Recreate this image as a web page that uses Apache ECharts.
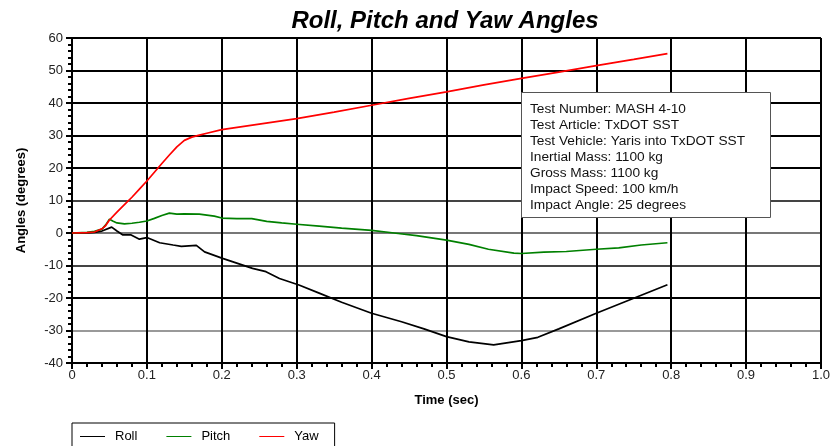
<!DOCTYPE html>
<html>
<head>
<meta charset="utf-8">
<script src="https://cdn.jsdelivr.net/npm/echarts@6/dist/echarts.min.js"></script>
<style>
  html, body { margin: 0; padding: 0; background: #fff; }
  #chart { width: 833px; height: 446px; }
</style>
</head>
<body>
<div id="chart"></div>
<script>
// time (sec) / angle (deg)
var rollT = [0, 0.02, 0.03, 0.04, 0.053, 0.06, 0.068, 0.079, 0.09, 0.1, 0.117, 0.135, 0.146, 0.166, 0.177, 0.201, 0.214, 0.241, 0.259, 0.277, 0.303, 0.33, 0.36, 0.4, 0.44, 0.47, 0.5, 0.53, 0.563, 0.6, 0.622, 0.65, 0.7, 0.75, 0.795];
var rollV = [0, 0, 0.2, 0.6, 1.8, 0.6, -0.6, -0.6, -1.9, -1.4, -3.0, -3.7, -4.1, -3.8, -5.8, -7.8, -8.8, -10.9, -11.9, -14.0, -16.0, -18.5, -21.3, -24.7, -27.3, -29.5, -31.9, -33.5, -34.4, -33.1, -32.1, -29.5, -24.7, -20.1, -15.9];

var pitchT = [0, 0.02, 0.03, 0.04, 0.045, 0.05, 0.055, 0.06, 0.07, 0.08, 0.09, 0.1, 0.11, 0.12, 0.13, 0.14, 0.15, 0.17, 0.19, 0.2, 0.22, 0.24, 0.26, 0.28, 0.3, 0.33, 0.36, 0.4, 0.43, 0.46, 0.5, 0.53, 0.556, 0.59, 0.6, 0.63, 0.66, 0.7, 0.73, 0.76, 0.795];
var pitchV = [0, 0.2, 0.5, 1.2, 2.5, 4.2, 3.6, 3.1, 2.8, 3.0, 3.3, 3.7, 4.5, 5.4, 6.1, 5.8, 5.9, 5.8, 5.2, 4.6, 4.4, 4.4, 3.6, 3.1, 2.7, 2.1, 1.5, 0.8, 0, -0.8, -2.2, -3.5, -5.0, -6.2, -6.3, -5.9, -5.7, -5.0, -4.6, -3.7, -3.0];

var yawT = [0, 0.02, 0.03, 0.04, 0.045, 0.05, 0.06, 0.07, 0.08, 0.09, 0.1, 0.11, 0.12, 0.13, 0.14, 0.15, 0.16, 0.17, 0.18, 0.2, 0.25, 0.3, 0.35, 0.4, 0.45, 0.5, 0.55, 0.6, 0.65, 0.7, 0.75, 0.795];
var yawV = [0, 0.1, 0.3, 1.3, 2.3, 4.0, 6.4, 8.7, 11.0, 13.5, 16.0, 18.7, 21.4, 24.0, 26.5, 28.5, 29.5, 30.1, 30.7, 31.8, 33.5, 35.2, 37.2, 39.3, 41.4, 43.4, 45.6, 47.6, 49.5, 51.5, 53.4, 55.2];

var xLabels = ['0', '0.1', '0.2', '0.3', '0.4', '0.5', '0.6', '0.7', '0.8', '0.9', '1.0'];
var infoLines = [
  'Test Number: MASH 4-10',
  'Test Article: TxDOT SST',
  'Test Vehicle: Yaris into TxDOT SST',
  'Inertial Mass: 1100 kg',
  'Gross Mass: 1100 kg',
  'Impact Speed: 100 km/h',
  'Impact Angle: 25 degrees'
];

var pairs = function (t, v) {
  return t.map(function (x, i) { return [x, v[i]]; });
};

var font = 'Liberation Sans, Arial, sans-serif';
var chart = echarts.init(document.getElementById('chart'));

var option = {
  animation: false,
  title: {
    text: 'Roll, Pitch and Yaw Angles',
    left: 440,
    textAlign: 'center',
    top: 4,
    textStyle: { fontFamily: font, fontSize: 24, fontWeight: 'bold', fontStyle: 'italic', color: '#000' }
  },
  grid: { left: 72, right: 9, top: 38, bottom: 83, containLabel: false },
  legend: {
    left: 72,
    top: 423,
    orient: 'horizontal',
    icon: 'path://M0,0 L25,0 L25,1 L0,1 Z',
    itemWidth: 25,
    itemHeight: 1,
    itemGap: 29,
    borderColor: '#000',
    borderWidth: 1,
    borderRadius: 0,
    padding: [7, 16, 7, 8],
    textStyle: { fontFamily: font, fontSize: 13, color: '#000', padding: [0, 0, 0, 5] },
    data: ['Roll', 'Pitch', 'Yaw']
  },
  xAxis: {
    type: 'value',
    min: 0,
    max: 1,
    interval: 0.1,
    name: 'Time (sec)',
    nameLocation: 'middle',
    nameGap: 31,
    nameTextStyle: { fontFamily: font, fontSize: 13, fontWeight: 'bold', color: '#000' },
    axisLine: { onZero: false, lineStyle: { color: '#000', width: 2 } },
    axisTick: { show: true, length: 6, lineStyle: { color: '#000', width: 2 } },
    minorTick: { show: true, splitNumber: 5, length: 4, lineStyle: { color: '#000', width: 2 } },
    axisLabel: {
      margin: 6,
      fontFamily: font, fontSize: 13, color: '#222',
      formatter: function (v) { return xLabels[Math.round(v * 10)]; }
    },
    splitLine: { show: true, lineStyle: { color: '#000', width: 2 } }
  },
  yAxis: {
    type: 'value',
    min: -40,
    max: 60,
    interval: 10,
    name: 'Angles (degrees)',
    nameLocation: 'middle',
    nameGap: 44,
    nameTextStyle: { fontFamily: font, fontSize: 13, fontWeight: 'bold', color: '#000' },
    axisLine: { show: true, onZero: false, lineStyle: { color: '#000', width: 2 } },
    axisTick: { show: true, length: 6, lineStyle: { color: '#000', width: 2 } },
    minorTick: { show: true, splitNumber: 5, length: 4, lineStyle: { color: '#000', width: 2 } },
    axisLabel: { margin: 9, fontFamily: font, fontSize: 13, color: '#222' },
    splitLine: {
      show: true,
      lineStyle: {
        // -40 ... 60
        color: ['#000', '#999', '#000', '#444', '#777', '#444', '#000', '#000', '#000', '#000', '#000'],
        width: 2
      }
    }
  },
  series: [
    {
      name: 'Roll', type: 'line', showSymbol: false, symbol: 'none',
      color: '#000', lineStyle: { color: '#000', width: 1.7 },
      data: pairs(rollT, rollV), z: 5
    },
    {
      name: 'Pitch', type: 'line', showSymbol: false, symbol: 'none',
      color: '#008000', lineStyle: { color: '#008000', width: 1.7 },
      data: pairs(pitchT, pitchV), z: 5
    },
    {
      name: 'Yaw', type: 'line', showSymbol: false, symbol: 'none',
      color: '#ff0000', lineStyle: { color: '#ff0000', width: 1.7 },
      data: pairs(yawT, yawV), z: 5
    }
  ],
  graphic: [
    {
      type: 'rect',
      left: 521,
      top: 92,
      z: 100,
      shape: { x: 0, y: 0, width: 249, height: 125 },
      style: { fill: '#fff', stroke: '#555', lineWidth: 1 }
    },
    {
      type: 'text',
      left: 530,
      top: 101,
      z: 101,
      style: {
        text: infoLines.join('\n'),
        font: '13.7px ' + font,
        lineHeight: 16.1,
        fill: '#111'
      }
    }
  ]
};

chart.setOption(option);
</script>
</body>
</html>
